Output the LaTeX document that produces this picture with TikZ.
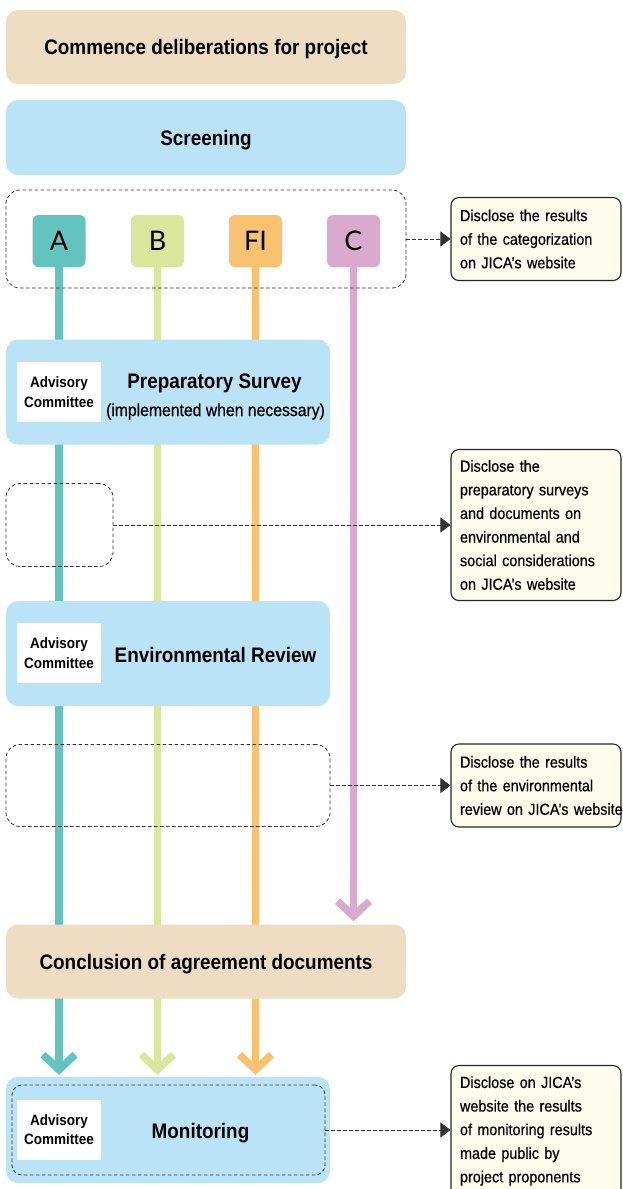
\documentclass[tikz,border=0pt]{standalone}
\usepackage{fontspec}
\setmainfont{Liberation Sans}
\newfontfamily\cond{Liberation Sans}[FakeStretch=0.9]
\newfontfamily\condmed{Liberation Sans}[FakeStretch=0.9, FakeBold=0.5]
\newfontfamily\letterfont{Lato}
\usetikzlibrary{arrows.meta}
\pgfdeclarelayer{background}
\pgfsetlayers{background,main}
\definecolor{beige}{HTML}{EEDDC3}
\definecolor{skyblue}{HTML}{BAE3F8}
\definecolor{cA}{HTML}{62C3BF}
\definecolor{cB}{HTML}{D9E69B}
\definecolor{cFI}{HTML}{F9C271}
\definecolor{cC}{HTML}{D9A9CE}
\definecolor{discfill}{HTML}{FEFCEC}
\definecolor{dashgray}{HTML}{333333}
\begin{document}
\begin{tikzpicture}[x=1pt,y=-1pt,
  stage/.style={draw=none, rounded corners=12pt, inner sep=0pt},
  bigtext/.style={font=\cond\bfseries\fontsize{21}{25}\selectfont, text height=15pt, text depth=0pt},
  notetext/.style={font=\condmed\fontsize{17.5}{21}\selectfont},
  catbox/.style={rounded corners=6pt, minimum width=53pt, minimum height=52pt, inner sep=0pt,
    font=\letterfont\fontsize{27}{30}\selectfont, text height=19pt, text depth=0pt},
  acbox/.style={fill=white, minimum width=84pt, minimum height=60pt, inner sep=0pt, align=center,
    font=\cond\bfseries\fontsize{15}{19.5}\selectfont},
  dashbox/.style={draw=dashgray, line width=0.8pt, dash pattern=on 3.5pt off 2.5pt, rounded corners=14pt, inner sep=0pt},
  discbox/.style={draw=black!85, fill=discfill, line width=1.1pt, rounded corners=8pt, minimum width=170pt,
    text width=152pt, inner xsep=9pt, inner ysep=0pt, align=left,
    font=\condmed\fontsize{16}{23.6}\selectfont},
  dasharrow/.style={draw=dashgray, line width=0.8pt, dash pattern=on 3.5pt off 2.5pt, -{Triangle[length=10pt,width=15pt]}},
  flow/.style={draw=#1, line width=7.5pt, -{Straight Barb[length=15pt,width=32pt]}}
]
\useasboundingbox (0,0) rectangle (622,1189);

% top stages
\node[stage, fill=beige, minimum width=400pt, minimum height=74pt, bigtext] (commence) at (206,47) {Commence deliberations for project};
\node[stage, fill=skyblue, minimum width=400pt, minimum height=75pt, bigtext] (screen) at (206,137.5) {Screening};

% categories
\node[dashbox, minimum width=400pt, minimum height=98pt] (dash1) at (206,239) {};
\node[catbox, fill=cA] (A) at (59,241) {A};
\node[catbox, fill=cB] (B) at (157.5,241) {B};
\node[catbox, fill=cFI] (FI) at (255.5,241) {FI};
\node[catbox, fill=cC] (C) at (353.5,241) {C};

% preparatory survey
\node[stage, fill=skyblue, minimum width=324pt, minimum height=105pt] (prep) at (168,392) {};
\node[acbox] (prepAC) at (59,392) {Advisory\\Committee};
\node[bigtext, anchor=base, inner sep=0pt] (prepT) at (214.5,388) {Preparatory Survey};
\node[notetext, anchor=base, inner sep=0pt] (prepN) at (215.5,416) {(implemented when necessary)};

\node[dashbox, minimum width=107pt, minimum height=83pt] (dash2) at (59.5,525) {};

% environmental review
\node[stage, fill=skyblue, minimum width=324pt, minimum height=105pt] (env) at (168,653.5) {};
\node[acbox] (envAC) at (59,653) {Advisory\\Committee};
\node[bigtext, anchor=base, inner sep=0pt] (envT) at (215.5,662) {Environmental Review};

\node[dashbox, minimum width=324pt, minimum height=82pt] (dash3) at (168,785.5) {};

% conclusion
\node[stage, fill=beige, minimum width=400pt, minimum height=74pt, bigtext] (concl) at (206,961.5) {Conclusion of agreement documents};

% monitoring
\node[stage, fill=skyblue, minimum width=324pt, minimum height=106pt] (mon) at (168,1130) {};
\node[dashbox, rounded corners=10pt, minimum width=313pt, minimum height=90pt] (monIn) at (168.5,1130) {};
\node[acbox] (monAC) at (59,1129.5) {Advisory\\Committee};
\node[bigtext, anchor=base, inner sep=0pt] (monT) at (200.5,1138) {Monitoring};

% disclosure boxes
\node[discbox, minimum height=83pt] (disc1) at (536,239) {Disclose the results\\of the categorization\\on JICA’s website};
\node[discbox, minimum height=151pt] (disc2) at (536,525) {Disclose the\\preparatory surveys\\and documents on\\environmental and\\social considerations\\on JICA’s website};
\node[discbox, minimum height=83pt] (disc3) at (536,785.5) {Disclose the results\\of the environmental\\\mbox{review on JICA’s website}};
\node[discbox, minimum height=131pt] (disc4) at (536,1131) {Disclose on JICA’s\\website the results\\of monitoring results\\made public by\\project proponents};

% disclosure arrows
\draw[dasharrow] (dash1.east) -- (disc1.west |- dash1.east);
\draw[dasharrow] (dash2.east) -- (disc2.west |- dash2.east);
\draw[dasharrow] (dash3.east) -- (disc3.west |- dash3.east);
\draw[dasharrow] (monIn.east) -- (disc4.west |- monIn.east);

% category flows
\begin{pgfonlayer}{background}
\draw[flow=cA, shorten >=2pt] (A.center) -- (A.center |- mon.north);
\draw[flow=cB, shorten >=2pt] (B.center) -- (B.center |- mon.north);
\draw[flow=cFI, shorten >=2pt] (FI.center) -- (FI.center |- mon.north);
\draw[flow=cC, shorten >=3pt] (C.center) -- (C.center |- concl.north);
\end{pgfonlayer}
\end{tikzpicture}
\end{document}
